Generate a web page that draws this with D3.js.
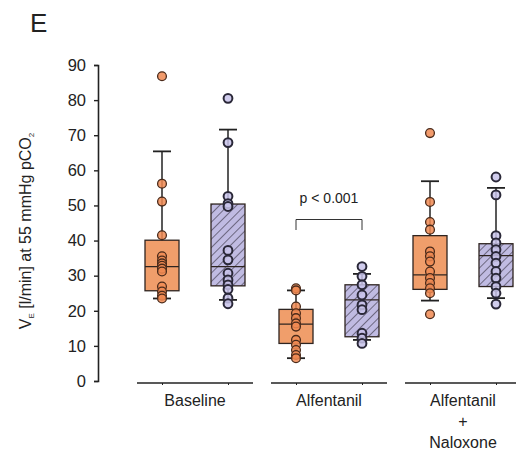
<!DOCTYPE html>
<html>
<head>
<meta charset="utf-8">
<script src="https://cdn.jsdelivr.net/npm/d3@7"></script>
<style>
body { margin: 0; background: #fff; }
text { font-family: "Liberation Sans", Arial, sans-serif; fill: #222; }
</style>
</head>
<body>
<div id="chart"></div>
<script>
var groups = ["Baseline", "Alfentanil", "Alfentanil + Naloxone"];
var series = ["Series 1", "Series 2"];
var yTicks = [0, 10, 20, 30, 40, 50, 60, 70, 80, 90];

// box stats, series 1 (orange)
var lowA = [23.5, 6.5, 22.9];
var q1A = [25.7, 10.7, 26.1];
var medA = [32.6, 16.2, 30.2];
var q3A = [40.1, 20.4, 41.4];
var highA = [65.4, 25.8, 56.9];

// box stats, series 2 (hatched purple)
var lowB = [23.1, 11.7, 23.6];
var q1B = [27.1, 12.6, 26.9];
var medB = [32.6, 23.1, 35.7];
var q3B = [50.4, 27.4, 39.1];
var highB = [71.6, 30.5, 55.0];

// individual subjects
var pointsA = [
    [86.8, 56.2, 51.1, 41.5, 35.5, 34.3, 33.5, 32.8, 32.0, 31.2, 26.9, 25.5, 24.3, 23.5],
    [26.4, 25.8, 21.2, 19.3, 17.9, 16.4, 15.5, 11.7, 10.3, 8.8, 7.4, 6.5],
    [70.6, 51.0, 45.3, 43.1, 36.9, 35.5, 34.0, 31.2, 29.3, 27.9, 26.4, 25.0, 19.0]
];
var pointsB = [
    [80.5, 67.9, 52.6, 50.5, 49.7, 37.2, 34.5, 30.7, 28.8, 27.4, 26.1, 23.6, 22.0],
    [32.6, 29.8, 27.4, 24.5, 21.7, 20.3, 13.6, 12.2, 10.7],
    [58.1, 53.0, 41.4, 39.3, 37.4, 35.5, 33.6, 31.2, 29.3, 26.9, 25.0, 21.9]
];

var width = 516, height = 457;
var svg = d3.select("#chart").append("svg")
    .attr("width", width)
    .attr("height", height);

var defs = svg.append("defs");
var pat = defs.append("pattern")
    .attr("id", "hatch")
    .attr("patternUnits", "userSpaceOnUse")
    .attr("width", 6)
    .attr("height", 6)
    .attr("patternTransform", "rotate(45)");
pat.append("rect").attr("width", 6).attr("height", 6).attr("fill", "#c0bbe2");
pat.append("line")
    .attr("x1", 0).attr("y1", 0).attr("x2", 0).attr("y2", 6)
    .attr("stroke", "#34303f").attr("stroke-width", 1.2);

var y = d3.scaleLinear().domain([0, 90]).range([381, 65]);
var x = d3.scaleBand().domain(groups)
    .range([128, 530])
    .paddingInner(18 / 134)
    .paddingOuter(9 / 134);
var xs = d3.scalePoint().domain(series).range([25, 91]);

// y axis
var yAxis = svg.append("g")
    .attr("transform", "translate(98,0)")
    .call(d3.axisLeft(y).tickValues(yTicks).tickSize(4).tickPadding(8));
yAxis.select(".domain").attr("stroke", "#222").attr("stroke-width", 1.6);
yAxis.selectAll(".tick line").attr("stroke", "#222").attr("stroke-width", 1.4);
yAxis.selectAll(".tick text")
    .attr("font-size", 16.5)
    .attr("font-family", "Liberation Sans, Arial, sans-serif")
    .attr("fill", "#222");

// per-group bottom axes
groups.forEach(function (g) {
    var sub = d3.scalePoint().domain(series)
        .range([x(g) + 25, x(g) + 91]);
    var ax = svg.append("g")
        .attr("transform", "translate(0,383)")
        .call(d3.axisBottom(sub).tickSize(2).tickSizeOuter(0).tickFormat(""));
    ax.select(".domain")
        .attr("d", "M" + x(g) + ",0H" + (x(g) + x.bandwidth()))
        .attr("stroke", "#222").attr("stroke-width", 1.6);
    ax.selectAll(".tick line").attr("stroke", "#222");
});

// category labels
var labelLines = [["Baseline"], ["Alfentanil"], ["Alfentanil", "+", "Naloxone"]];
groups.forEach(function (g, i) {
    var t = svg.append("text")
        .attr("text-anchor", "middle")
        .attr("font-size", 16)
        .attr("x", x(g) + 58)
        .attr("y", 406);
    labelLines[i].forEach(function (l, j) {
        t.append("tspan").attr("x", x(g) + 58).attr("dy", j === 0 ? 0 : 21).text(l);
    });
});

var boxW = 34, capW = 18;
var stats = [
    {s: series[0], low: lowA, q1: q1A, med: medA, q3: q3A, high: highA, pts: pointsA,
        fill: "#f09e6b", pfill: "#f08a52", pstroke: "#4a2a1a", pw: 1.3},
    {s: series[1], low: lowB, q1: q1B, med: medB, q3: q3B, high: highB, pts: pointsB,
        fill: "url(#hatch)", pfill: "#c8c3ea", pstroke: "#2a2838", pw: 2}
];

stats.forEach(function (st) {
    groups.forEach(function (g, i) {
        var cx = x(g) + xs(st.s);
        var gg = svg.append("g");
        // whiskers
        gg.append("line").attr("x1", cx).attr("x2", cx)
            .attr("y1", y(st.high[i])).attr("y2", y(st.low[i]))
            .attr("stroke", "#222").attr("stroke-width", 1.5);
        [st.high[i], st.low[i]].forEach(function (v) {
            gg.append("line")
                .attr("x1", cx - capW / 2).attr("x2", cx + capW / 2)
                .attr("y1", y(v)).attr("y2", y(v))
                .attr("stroke", "#222").attr("stroke-width", 1.8);
        });
        // box
        gg.append("rect")
            .attr("x", cx - boxW / 2)
            .attr("y", y(st.q3[i]))
            .attr("width", boxW)
            .attr("height", y(st.q1[i]) - y(st.q3[i]))
            .attr("fill", st.fill)
            .attr("stroke", "#2e2420")
            .attr("stroke-width", 1.3);
        gg.append("line")
            .attr("x1", cx - boxW / 2).attr("x2", cx + boxW / 2)
            .attr("y1", y(st.med[i])).attr("y2", y(st.med[i]))
            .attr("stroke", "#2e2420").attr("stroke-width", 1.2);
        // points
        gg.selectAll("circle")
            .data(st.pts[i])
            .enter()
            .append("circle")
            .attr("cx", cx)
            .attr("cy", function (d) { return y(d); })
            .attr("r", 4.4)
            .attr("fill", st.pfill)
            .attr("fill-opacity", 0.85)
            .attr("stroke", st.pstroke)
            .attr("stroke-width", st.pw);
    });
});

// significance bracket
var bx1 = x(groups[1]) + xs(series[0]);
var bx2 = x(groups[1]) + xs(series[1]);
svg.append("path")
    .attr("d", "M" + bx1 + ",230V219.5H" + bx2 + "V230")
    .attr("fill", "none")
    .attr("stroke", "#333")
    .attr("stroke-width", 1);
svg.append("text")
    .attr("x", (bx1 + bx2) / 2)
    .attr("y", 203)
    .attr("text-anchor", "middle")
    .attr("font-size", 14)
    .text("p < 0.001");

// y label
var yl = svg.append("text")
    .attr("transform", "translate(31,231) rotate(-90)")
    .attr("text-anchor", "middle")
    .attr("font-size", 16);
yl.append("tspan").text("V");
yl.append("tspan").attr("font-size", 8).attr("dy", 3).text("E");
yl.append("tspan").attr("dy", -3).text(" [l/min] at 55 mmHg pCO");
yl.append("tspan").attr("font-size", 8).attr("dy", 3).text("2");

// panel letter
svg.append("text")
    .attr("x", 30)
    .attr("y", 32)
    .attr("font-size", 26)
    .text("E");
</script>
</body>
</html>
